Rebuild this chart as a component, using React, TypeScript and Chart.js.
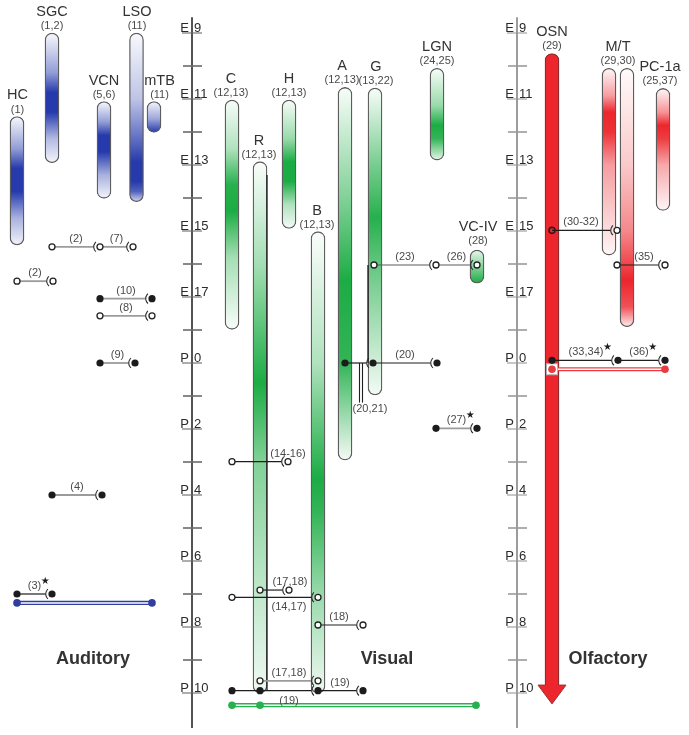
import React, { useEffect, useRef } from 'react';
import { Chart, registerables } from 'chart.js';

Chart.register(...registerables);

// ---------- time axis (days: E9 = 9 ... E18 = 18, P0 = 19 ... P10 = 29) ----------
const labelDays = [9, 11, 13, 15, 17, 19, 21, 23, 25, 27, 29];
const labelStage = ['E', 'E', 'E', 'E', 'E', 'P', 'P', 'P', 'P', 'P', 'P'];
const labelNumber = ['9', '11', '13', '15', '17', '0', '2', '4', '6', '8', '10'];
const midDays = [10, 12, 14, 16, 18, 20, 22, 24, 26, 28];
const axisLanes = [192, 517];
const axisSpan = [8.52, 30.06];

// ---------- Auditory ----------
const auditoryLanes = [17, 52, 104, 136.5, 154];
const auditoryStart = [11.53, 9.0, 11.08, 9.0, 11.08];
const auditoryEnd = [15.42, 12.93, 14.01, 14.11, 12.01];
const auditoryShade: number[][][] = [
  [[11.53, 0.03], [12.5, 0.5], [13.1, 1], [13.8, 1], [14.6, 0.4], [15.42, 0.06]],
  [[9.0, 0.03], [10.2, 0.5], [10.8, 1], [11.4, 1], [12.2, 0.35], [12.93, 0.05]],
  [[11.08, 0.03], [11.7, 0.5], [12.1, 1], [12.6, 1], [13.3, 0.4], [14.01, 0.05]],
  [[9.0, 0.03], [11.0, 0.3], [12.4, 0.8], [12.9, 1], [13.5, 1], [13.8, 0.8], [14.11, 0.2]],
  [[11.08, 0.05], [11.6, 0.45], [12.01, 1]],
];
const auditoryNames = ['HC', 'SGC', 'VCN', 'LSO', 'mTB'];
const auditoryRefs = ['(1)', '(1,2)', '(5,6)', '(11)', '(11)'];
const auditoryLabelLanes = [17.5, 52, 104, 137, 159.5];
const auditoryLabelDays = [11.53, 9.0, 11.08, 9.0, 11.08];

// ---------- Visual ----------
const visualLanes = [232, 260, 289, 318, 345, 375, 437, 477];
const visualStart = [11.03, 12.9, 11.03, 15.02, 10.65, 10.67, 10.07, 15.58];
const visualEnd = [17.98, 29.0, 14.92, 29.0, 21.94, 19.97, 12.85, 16.58];
const visualShade: number[][][] = [
  [[11.03, 0.03], [12.5, 0.35], [13.6, 0.95], [14.4, 1], [15.8, 0.4], [17.98, 0.03]],
  [[12.9, 0.02], [16.0, 0.4], [19.6, 1], [22.0, 0.55], [29.0, 0.07]],
  [[11.03, 0.03], [12.2, 0.45], [12.9, 1], [13.5, 1], [14.2, 0.35], [14.92, 0.05]],
  [[15.02, 0.02], [19.0, 0.35], [22.5, 1], [23.5, 0.9], [26.0, 0.45], [29.0, 0.07]],
  [[10.65, 0.03], [14.0, 0.55], [16.5, 1], [19.0, 0.9], [21.94, 0.05]],
  [[10.67, 0.03], [13.0, 0.6], [14.6, 0.95], [16.5, 0.6], [19.97, 0.05]],
  [[10.07, 0.03], [11.2, 0.45], [11.8, 1], [12.2, 0.9], [12.85, 0.1]],
  [[15.58, 0.1], [16.1, 0.55], [16.58, 1]],
];
const visualNames = ['C', 'R', 'H', 'B', 'A', 'G', 'LGN', 'VC-IV'];
const visualRefs = ['(12,13)', '(12,13)', '(12,13)', '(12,13)', '(12,13)', '(13,22)', '(24,25)', '(28)'];
const visualLabelLanes = [231, 259, 289, 317, 342, 376, 437, 478];
const visualLabelDays = [11.03, 12.9, 11.03, 15.02, 10.65, 10.67, 10.07, 15.5];

// ---------- Olfactory ----------
const olfactoryLanes = [552, 609, 627, 663];
const olfactoryStart = [9.62, 10.07, 10.07, 10.68];
const olfactoryEnd = [28.9, 15.73, 17.9, 14.38];
const olfactoryShade: number[][][] = [
  [[9.62, 1], [28.9, 1]],
  [[10.07, 0.03], [10.9, 0.45], [11.4, 1], [12.0, 0.95], [13.0, 0.45], [15.73, 0.04]],
  [[10.07, 0.02], [13.0, 0.25], [15.0, 0.55], [16.5, 1], [17.3, 0.8], [17.9, 0.08]],
  [[10.68, 0.03], [11.4, 0.5], [11.8, 1], [12.2, 0.9], [13.0, 0.4], [14.38, 0.04]],
];
const olfactoryNames = ['OSN', 'M/T', 'PC-1a'];
const olfactoryRefs = ['(29)', '(29,30)', '(25,37)'];
const olfactoryLabelLanes = [552, 618, 660];
const olfactoryLabelDays = [9.62, 10.07, 10.68];
const arrowDays = [28.76, 29.33];

// ---------- connections: [ref, day, fromLane, toLane, startMark, endMark, tone, star, labelLane, labelBelow] ----------
type Link = [string, number, number, number, string, string, string, boolean, number | null, boolean];
const auditoryLinks: Link[] = [
  ['(2)', 15.48, 52, 100, 'o', 'o', 'g', false, null, false],
  ['(7)', 15.48, 100, 133, '-', 'o', 'g', false, null, false],
  ['(2)', 16.52, 17, 53, 'o', 'o', 'g', false, null, false],
  ['(10)', 17.05, 100, 152, 'f', 'f', 'g', false, null, false],
  ['(8)', 17.57, 100, 152, 'o', 'o', 'g', false, null, false],
  ['(9)', 19.0, 100, 135, 'f', 'f', 'g', false, null, false],
  ['(4)', 23.0, 52, 102, 'f', 'f', 'g', false, null, false],
  ['(3)', 26.0, 17, 52, 'f', 'f', 'k', true, null, false],
];
const visualLinks: Link[] = [
  ['(23)', 16.03, 374, 436, 'o', 'o', 'd', false, null, false],
  ['(26)', 16.03, 436, 477, '-', 'o', 'd', false, null, false],
  ['', 19.0, 345, 373, 'f', 'f', 'k', false, null, false],
  ['(20)', 19.0, 373, 437, '-', 'f', 'k', false, null, false],
  ['(27)', 20.98, 436, 477, 'f', 'f', 'g', true, null, false],
  ['(14-16)', 21.99, 232, 288, 'o', 'o', 'k', false, 288, false],
  ['(17,18)', 25.88, 260, 289, 'o', 'o', 'k', false, 290, false],
  ['(14,17)', 26.1, 232, 318, 'o', 'o', 'k', false, 289, true],
  ['(18)', 26.94, 318, 363, 'o', 'o', 'k', false, 339, false],
  ['(17,18)', 28.63, 260, 318, 'o', 'o', 'g', false, null, false],
  ['(19)', 28.93, 232, 318, 'f', 'f', 'k', false, 289, true],
  ['(19)', 28.93, 318, 363, '-', 'f', 'k', false, 340, false],
];
const visualDots = [[260, 28.93]];
const visualRails = [[267, 13.3, 28.93], [368, 16.03, 19.0]];
const visualDropLanes = [359.5, 362.5];
const visualDropDays = [19.0, 20.2];
const visualDropLabel = ['(20,21)', 370, 20.39] as const;
const olfactoryLinks: Link[] = [
  ['(30-32)', 14.98, 552, 617, 'r', 'o', 'k', false, 581, false],
  ['(35)', 16.03, 617, 665, 'o', 'o', 'k', false, 644, false],
  ['(33,34)', 18.92, 552, 618, 'f', 'f', 'k', true, 586, false],
  ['(36)', 18.92, 618, 665, '-', 'f', 'k', true, 639, false],
];

// ---------- tracts: [day, fromLane, toLane, dotLanes] ----------
const auditoryTract = [26.27, 17, 152, [17, 152]] as const;
const visualTract = [29.37, 232, 476, [232, 260, 476]] as const;
const olfactoryTract = [19.19, 552, 665, [552, 665]] as const;

// ---------- panel titles ----------
const panelTitles = ['Auditory', 'Visual', 'Olfactory'];
const panelTitleLanes = [93, 387, 608];
const panelTitleDay = 27.97;

// ---------- styles ----------
const BLUE = [38, 58, 172];
const GREEN = [28, 172, 68];
const RED = [236, 38, 44];
const TONES: Record<string, string> = { g: '#9b9b9b', d: '#5a5a5a', k: '#1e1e1e' };
const FONT = '"Liberation Sans", Arial, sans-serif';

type BarItem = { x: number; y: number[]; shade: number[][]; rgb: number[] };
const allBars: BarItem[] = [
  ...auditoryLanes.map((l, i) => ({ x: l, y: [auditoryStart[i], auditoryEnd[i]], shade: auditoryShade[i], rgb: BLUE })),
  ...visualLanes.map((l, i) => ({ x: l, y: [visualStart[i], visualEnd[i]], shade: visualShade[i], rgb: GREEN })),
  ...olfactoryLanes.map((l, i) => ({ x: l, y: [olfactoryStart[i], olfactoryEnd[i]], shade: olfactoryShade[i], rgb: RED })),
];
const osnIndex = auditoryLanes.length + visualLanes.length;

function mix(rgb: number[], t: number) {
  const c = rgb.map((v) => Math.round(255 + (v - 255) * t));
  return `rgb(${c[0]},${c[1]},${c[2]})`;
}

const overlay = {
  id: 'overlay',
  beforeDatasetsDraw(chart: any) {
    const ctx: CanvasRenderingContext2D = chart.ctx;
    const X = (v: number) => chart.scales.x.getPixelForValue(v);
    const Y = (v: number) => chart.scales.y.getPixelForValue(v);
    ctx.save();
    axisLanes.forEach((lane, ai) => {
      const x = X(lane);
      const lineCol = ai === 0 ? '#1a1a1a' : '#9c9c9c';
      const tickCol = ai === 0 ? '#6a6a6a' : '#9a9a9a';
      ctx.strokeStyle = lineCol;
      ctx.lineWidth = ai === 0 ? 1.5 : 2;
      ctx.beginPath();
      ctx.moveTo(x, Y(axisSpan[0]));
      ctx.lineTo(x, Y(axisSpan[1]));
      ctx.stroke();
      ctx.strokeStyle = tickCol;
      ctx.lineWidth = 1.6;
      midDays.forEach((d) => {
        ctx.beginPath();
        ctx.moveTo(x - 9, Y(d));
        ctx.lineTo(x + 10, Y(d));
        ctx.stroke();
      });
      ctx.lineWidth = 1.1;
      labelDays.forEach((d, i) => {
        const y = Y(d);
        ctx.strokeStyle = tickCol;
        ctx.beginPath();
        ctx.moveTo(x - 10, y);
        ctx.lineTo(x + 10, y);
        ctx.stroke();
        ctx.fillStyle = '#2a2a2a';
        ctx.font = `13px ${FONT}`;
        ctx.textBaseline = 'alphabetic';
        ctx.textAlign = 'right';
        ctx.fillText(labelStage[i], x - 3, y - 1.5);
        ctx.textAlign = 'left';
        ctx.fillText(labelNumber[i], x + 2, y - 1.5);
      });
    });
    ctx.restore();
  },
  afterDatasetsDraw(chart: any) {
    const ctx: CanvasRenderingContext2D = chart.ctx;
    const X = (v: number) => chart.scales.x.getPixelForValue(v);
    const Y = (v: number) => chart.scales.y.getPixelForValue(v);
    ctx.save();

    // OSN arrow head
    {
      const cx = X(olfactoryLanes[0]);
      const by = Y(arrowDays[0]);
      const ty = Y(arrowDays[1]);
      ctx.fillStyle = mix(RED, 1);
      ctx.beginPath();
      ctx.moveTo(cx - 14, by);
      ctx.lineTo(cx + 14, by);
      ctx.lineTo(cx, ty);
      ctx.closePath();
      ctx.fill();
      ctx.strokeStyle = '#9a3030';
      ctx.lineWidth = 1;
      ctx.beginPath();
      ctx.moveTo(cx + 7, by);
      ctx.lineTo(cx + 14, by);
      ctx.lineTo(cx, ty);
      ctx.lineTo(cx - 14, by);
      ctx.lineTo(cx - 7, by);
      ctx.stroke();
    }

    // rails and drops
    ctx.strokeStyle = '#1e1e1e';
    ctx.lineWidth = 1.3;
    visualRails.forEach(([lane, d0, d1]) => {
      ctx.beginPath();
      ctx.moveTo(X(lane), Y(d0));
      ctx.lineTo(X(lane), Y(d1));
      ctx.stroke();
    });
    ctx.lineWidth = 1.1;
    visualDropLanes.forEach((lane) => {
      ctx.beginPath();
      ctx.moveTo(X(lane), Y(visualDropDays[0]));
      ctx.lineTo(X(lane), Y(visualDropDays[1]));
      ctx.stroke();
    });

    // tracts
    const tracts: [readonly any[], number[], boolean][] = [
      [auditoryTract, [48, 62, 160], false],
      [visualTract, [40, 176, 80], false],
      [olfactoryTract, [232, 60, 64], true],
    ];
    tracts.forEach(([t, rgb, box]) => {
      const [day, from, to, dots] = t as [number, number, number, number[]];
      const y = Y(day);
      const col = `rgb(${rgb[0]},${rgb[1]},${rgb[2]})`;
      ctx.strokeStyle = col;
      ctx.lineWidth = 4.2;
      ctx.beginPath();
      ctx.moveTo(X(from), y);
      ctx.lineTo(X(to), y);
      ctx.stroke();
      ctx.strokeStyle = '#ffffff';
      ctx.lineWidth = 1.5;
      ctx.beginPath();
      ctx.moveTo(X(from), y);
      ctx.lineTo(X(to), y);
      ctx.stroke();
      if (box) {
        ctx.fillStyle = '#ffffff';
        ctx.strokeStyle = '#b0b0b0';
        ctx.lineWidth = 1;
        ctx.fillRect(X(from) - 5.5, y - 5.5, 11, 11);
        ctx.strokeRect(X(from) - 5.5, y - 5.5, 11, 11);
      }
      ctx.fillStyle = col;
      dots.forEach((l) => {
        ctx.beginPath();
        ctx.arc(X(l), y, 3.8, 0, Math.PI * 2);
        ctx.fill();
      });
    });

    const mark = (x: number, y: number, m: string) => {
      if (m === '-') return;
      ctx.beginPath();
      if (m === 'f') {
        ctx.arc(x, y, 3.6, 0, Math.PI * 2);
        ctx.fillStyle = '#1c1c1c';
        ctx.fill();
      } else if (m === 'o') {
        ctx.arc(x, y, 3, 0, Math.PI * 2);
        ctx.fillStyle = '#ffffff';
        ctx.fill();
        ctx.strokeStyle = '#222';
        ctx.lineWidth = 1.3;
        ctx.stroke();
      } else {
        ctx.arc(x, y, 3, 0, Math.PI * 2);
        ctx.strokeStyle = '#3a1616';
        ctx.lineWidth = 1.6;
        ctx.stroke();
      }
    };

    const drawLabel = (text: string, x: number, y: number, star: boolean) => {
      ctx.font = `11px ${FONT}`;
      ctx.fillStyle = '#4a4a4a';
      ctx.textAlign = 'center';
      ctx.textBaseline = 'middle';
      ctx.fillText(text, x, y);
      if (star) {
        const w = ctx.measureText(text).width;
        ctx.font = `10px "DejaVu Sans"`;
        ctx.fillStyle = '#1e1e1e';
        ctx.fillText('\u2605', x + w / 2 + 4, y - 5);
      }
    };

    const allLinks = [...auditoryLinks, ...visualLinks, ...olfactoryLinks];
    allLinks.forEach(([, day, from, to, , , tone]) => {
      const y = Y(day);
      ctx.strokeStyle = TONES[tone];
      ctx.lineWidth = tone === 'g' ? 1.8 : 1.2;
      ctx.beginPath();
      ctx.moveTo(X(from), y);
      ctx.lineTo(X(to) - 6.5, y);
      ctx.stroke();
    });
    allLinks.forEach(([, day, from, to, sm, em]) => {
      const y = Y(day);
      const x2 = X(to);
      ctx.strokeStyle = '#2a2a2a';
      ctx.lineWidth = 1.1;
      ctx.beginPath();
      ctx.arc(x2, y, 6.3, Math.PI * 0.72, Math.PI * 1.28);
      ctx.stroke();
      mark(X(from), y, sm);
      mark(x2, y, em);
    });
    visualDots.forEach(([l, d]) => mark(X(l), Y(d), 'f'));
    allLinks.forEach(([ref, day, from, to, , , , star, lane, below]) => {
      if (!ref) return;
      const lx = X(lane ?? (from + to) / 2);
      const ly = below ? Y(day) + 10 : Y(day) - 8;
      drawLabel(ref, lx, ly, star);
    });
    drawLabel(visualDropLabel[0], X(visualDropLabel[1]), Y(visualDropLabel[2]), false);

    // bar names
    const names: [string[], string[], number[], number[]][] = [
      [auditoryNames, auditoryRefs, auditoryLabelLanes, auditoryLabelDays],
      [visualNames, visualRefs, visualLabelLanes, visualLabelDays],
      [olfactoryNames, olfactoryRefs, olfactoryLabelLanes, olfactoryLabelDays],
    ];
    ctx.textAlign = 'center';
    ctx.textBaseline = 'middle';
    names.forEach(([n, r, lanes, days]) => {
      n.forEach((name, i) => {
        const x = X(lanes[i]);
        const y = Y(days[i]);
        ctx.font = `14.5px ${FONT}`;
        ctx.fillStyle = '#333333';
        ctx.fillText(name, x, y - 21);
        ctx.font = `11px ${FONT}`;
        ctx.fillStyle = '#4a4a4a';
        ctx.fillText(r[i], x, y - 7);
      });
    });

    // panel titles
    ctx.font = `bold 18px ${FONT}`;
    ctx.fillStyle = '#333333';
    panelTitles.forEach((t, i) => ctx.fillText(t, X(panelTitleLanes[i]), Y(panelTitleDay)));
    ctx.restore();
  },
};

export default function App() {
  const ref = useRef<HTMLCanvasElement>(null);
  useEffect(() => {
    document.body.style.margin = '0';
    const canvas = ref.current!;
    const chart = new Chart(canvas, {
      type: 'bar',
      data: {
        datasets: [
          {
            data: allBars as any,
            barThickness: 14,
            borderWidth: 1.3,
            borderSkipped: false,
            borderColor: (c: any) => (c.dataIndex === osnIndex ? '#8e2b2b' : '#5c5c5c'),
            borderRadius: (c: any) =>
              c.dataIndex === osnIndex ? { topLeft: 7, topRight: 7, bottomLeft: 0, bottomRight: 0 } : 7,
            backgroundColor: (c: any) => {
              const bar = allBars[c.dataIndex];
              if (!bar || c.type !== 'data') return '#cccccc';
              const ys = c.chart.scales.y;
              if (!ys) return mix(bar.rgb, 0.5);
              const y0 = ys.getPixelForValue(bar.y[0]);
              const y1 = ys.getPixelForValue(bar.y[1]);
              if (!isFinite(y0) || !isFinite(y1) || y0 === y1) return mix(bar.rgb, 0.5);
              const g = c.chart.ctx.createLinearGradient(0, y0, 0, y1);
              const span = bar.y[1] - bar.y[0];
              bar.shade.forEach(([d, t]) => {
                g.addColorStop(Math.min(1, Math.max(0, (d - bar.y[0]) / span)), mix(bar.rgb, t));
              });
              return g;
            },
          } as any,
        ],
      },
      options: {
        responsive: false,
        maintainAspectRatio: false,
        animation: false,
        events: [],
        layout: { padding: 0 },
        plugins: { legend: { display: false }, tooltip: { enabled: false } },
        scales: {
          x: { type: 'linear', min: 0, max: 689, offset: false, display: false },
          y: { type: 'linear', min: 8, max: 8 + 735 / 33, reverse: true, display: false },
        },
      },
      plugins: [overlay],
    });
    return () => chart.destroy();
  }, []);
  return <canvas ref={ref} width={689} height={735} style={{ display: 'block' }} />;
}
